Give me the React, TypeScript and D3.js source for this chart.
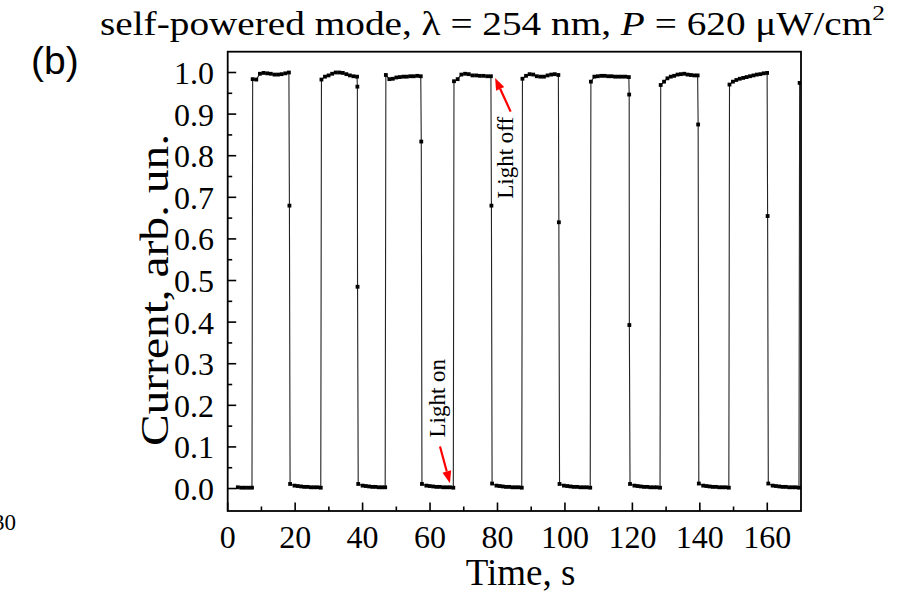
import React from "react";
import * as d3 from "d3";

const W = 897;
const H = 591;

const xTicks = [0, 20, 40, 60, 80, 100, 120, 140, 160];
const xMinor = [10, 30, 50, 70, 90, 110, 130, 150];
const yTicks = [0, 0.1, 0.2, 0.3, 0.4, 0.5, 0.6, 0.7, 0.8, 0.9, 1.0];
const yMinor = [0.05, 0.15, 0.25, 0.35, 0.45, 0.55, 0.65, 0.75, 0.85, 0.95];

// switching instants (s)
const startTime = 3.0;
const onTimes = [7.3, 27.7, 46.8, 67.0, 87.3, 107.6, 128.3, 148.7, 169.5];
const offTimes = [18.3, 38.5, 57.4, 78.2, 98.2, 119.1, 139.5, 160.1];

// dark current before the first pulse
const firstLow = [0.003, 0.002, 0.002, 0.002, 0.002];

// photocurrent plateaus (light on)
const highVals = [
  [0.984, 0.983, 0.997, 0.999, 0.998, 0.997, 0.995, 0.995, 0.996, 0.998, 1.0],
  [0.983, 0.99, 0.993, 0.997, 1.0, 1.0, 0.999, 0.996, 0.993, 0.991, 0.99],
  [0.994, 0.984, 0.985, 0.988, 0.989, 0.99, 0.99, 0.991, 0.991, 0.992, 0.991],
  [0.979, 0.984, 0.995, 0.997, 0.996, 0.993, 0.993, 0.992, 0.992, 0.991, 0.991],
  [0.985, 0.992, 0.996, 0.995, 0.991, 0.99, 0.99, 0.993, 0.995, 0.996, 0.994],
  [0.978, 0.99, 0.991, 0.992, 0.992, 0.991, 0.991, 0.99, 0.99, 0.99, 0.99, 0.989],
  [0.97, 0.978, 0.986, 0.99, 0.992, 0.995, 0.996, 0.997, 0.995, 0.994, 0.993, 0.993],
  [0.971, 0.978, 0.982, 0.985, 0.987, 0.989, 0.991, 0.993, 0.995, 0.996, 0.998, 0.999],
];

// intermediate samples caught during the fall
const dropVals = [
  [0.68],
  [0.966, 0.485],
  [0.834],
  [0.68],
  [0.64],
  [0.947, 0.393],
  [0.875],
  [0.655],
];

// first sample after switching off
const lowDot = [0.011, 0.011, 0.011, 0.012, 0.011, 0.011, 0.012, 0.012];

// decaying dark current (light off)
const lowVals = [
  [0.007, 0.006, 0.005, 0.004, 0.004, 0.003, 0.003, 0.003, 0.002],
  [0.007, 0.006, 0.005, 0.004, 0.004, 0.003, 0.003, 0.003],
  [0.007, 0.006, 0.005, 0.004, 0.004, 0.003, 0.003, 0.003, 0.002],
  [0.007, 0.006, 0.005, 0.004, 0.004, 0.003, 0.003, 0.003, 0.002],
  [0.007, 0.006, 0.005, 0.004, 0.004, 0.003, 0.003, 0.003, 0.002],
  [0.007, 0.006, 0.005, 0.004, 0.004, 0.003, 0.003, 0.003, 0.002],
  [0.007, 0.006, 0.005, 0.004, 0.004, 0.003, 0.003, 0.003, 0.002],
  [0.007, 0.006, 0.005, 0.004, 0.004, 0.003, 0.003, 0.003, 0.002],
];

const lastHigh = [0.975];

const annotations = [
  { label: "Light off", tx: 84.6, ty: 0.795, tail: [83.9, 0.906], tip: [79.3, 0.987] },
  { label: "Light on", tx: 64.3, ty: 0.217, tail: [62.95, 0.101], tip: [65.9, 0.013] },
];

function spread(vals: number[], t0: number, t1: number): [number, number][] {
  const n = vals.length;
  return vals.map((v, i) => [n === 1 ? t0 : t0 + ((t1 - t0) * i) / (n - 1), v]);
}

function buildSeries(): [number, number][] {
  const pts: [number, number][] = [];
  pts.push(...spread(firstLow, startTime, onTimes[0] - 0.1));
  for (let k = 0; k < offTimes.length; k++) {
    pts.push(...spread(highVals[k], onTimes[k] + 0.1, offTimes[k] - 0.15));
    const d = dropVals[k];
    pts.push(...spread(d, offTimes[k] - 0.05 * (d.length - 1), offTimes[k]));
    pts.push([offTimes[k] + 0.2, lowDot[k]]);
    pts.push(...spread(lowVals[k], offTimes[k] + 1.5, onTimes[k + 1] - 0.1));
  }
  pts.push([onTimes[8] + 0.1, lastHigh[0]]);
  return pts;
}

const serif = "'Liberation Serif', 'Times New Roman', serif";

export default function App() {
  const L = 227.7, R = 801, T = 51.7, B = 511;
  const x = d3.scaleLinear().domain([0, 170]).range([L, R]);
  const y = d3.scaleLinear().domain([-0.054, 1.05]).range([B, T]);
  const data = buildSeries();
  const line = d3
    .line<[number, number]>()
    .x((d) => x(d[0]))
    .y((d) => y(d[1]));
  const ms = 3.8;

  const arrow = (a: typeof annotations[number], i: number) => {
    const x0 = x(a.tail[0]), y0 = y(a.tail[1]);
    const x1 = x(a.tip[0]), y1 = y(a.tip[1]);
    const ang = Math.atan2(y1 - y0, x1 - x0);
    const hl = 12, hw = 4.5;
    const bx = x1 - hl * Math.cos(ang), by = y1 - hl * Math.sin(ang);
    const px = -Math.sin(ang) * hw, py = Math.cos(ang) * hw;
    return (
      <g key={"a" + i}>
        <line x1={x0} y1={y0} x2={bx} y2={by} stroke="#ff0000" strokeWidth={2.2} />
        <polygon
          points={`${x1},${y1} ${bx + px},${by + py} ${bx - px},${by - py}`}
          fill="#ff0000"
        />
        <text
          transform={`translate(${x(a.tx)},${y(a.ty)}) rotate(-90)`}
          textAnchor="middle"
          fontFamily={serif}
          fontSize={23}
          fill="#000"
        >
          {a.label}
        </text>
      </g>
    );
  };

  return (
    <svg
      width={W}
      height={H}
      style={{ position: "absolute", left: 0, top: 0, background: "#fff" }}
    >
      <rect x={0} y={0} width={W} height={H} fill="#fff" />
      <defs>
        <clipPath id="plotclip">
          <rect x={L} y={T} width={R - L} height={B - T} />
        </clipPath>
      </defs>

      {/* data */}
      <g clipPath="url(#plotclip)">
        <path d={line(data) || ""} fill="none" stroke="#222" strokeWidth={1.1} />
        {data.map((d, i) => (
          <rect
            key={i}
            x={x(d[0]) - ms / 2}
            y={y(d[1]) - ms / 2}
            width={ms}
            height={ms}
            fill="#000"
          />
        ))}
      </g>

      {/* frame */}
      <rect x={L} y={T} width={R - L} height={B - T} fill="none" stroke="#000" strokeWidth={1.8} />

      {/* x ticks */}
      {xTicks.map((t) => (
        <g key={"xt" + t}>
          <line x1={x(t)} x2={x(t)} y1={B} y2={B - 8.5} stroke="#000" strokeWidth={1.6} />
          <text x={x(t)} y={548.3} textAnchor="middle" fontFamily={serif} fontSize={32}>
            {t}
          </text>
        </g>
      ))}
      {xMinor.map((t) => (
        <line key={"xm" + t} x1={x(t)} x2={x(t)} y1={B} y2={B - 4.5} stroke="#000" strokeWidth={1.6} />
      ))}

      {/* y ticks */}
      {yTicks.map((t) => (
        <g key={"yt" + t}>
          <line x1={L} x2={L + 8.5} y1={y(t)} y2={y(t)} stroke="#000" strokeWidth={1.6} />
          <text x={214} y={y(t) + 11.5} textAnchor="end" fontFamily={serif} fontSize={32}>
            {d3.format(".1f")(t)}
          </text>
        </g>
      ))}
      {yMinor.map((t) => (
        <line key={"ym" + t} x1={L} x2={L + 4.5} y1={y(t)} y2={y(t)} stroke="#000" strokeWidth={1.6} />
      ))}

      {/* axis titles */}
      <text x={520.5} y={584.5} textAnchor="middle" fontFamily={serif} fontSize={37}>
        Time, s
      </text>
      <text
        transform="translate(168,290) rotate(-90)"
        textAnchor="middle"
        fontFamily={serif}
        fontSize={40}
        textLength={312}
        lengthAdjust="spacingAndGlyphs"
      >
        Current, arb. un.
      </text>

      {/* title */}
      <text
        x={100}
        y={35}
        fontFamily={serif}
        fontSize={34}
        textLength={785}
        lengthAdjust="spacingAndGlyphs"
      >
        self-powered mode, λ = 254 nm, <tspan fontStyle="italic">P</tspan> = 620 μW/cm
        <tspan fontSize={22} dy={-15}>2</tspan>
      </text>

      {/* panel label */}
      <text x={31} y={74} fontFamily="'Liberation Sans', Arial, sans-serif" fontSize={39}>
        (b)
      </text>

      {/* neighbouring panel remnant */}
      <text x={16} y={530} textAnchor="end" fontFamily={serif} fontSize={23}>
        30
      </text>

      {annotations.map(arrow)}
    </svg>
  );
}
